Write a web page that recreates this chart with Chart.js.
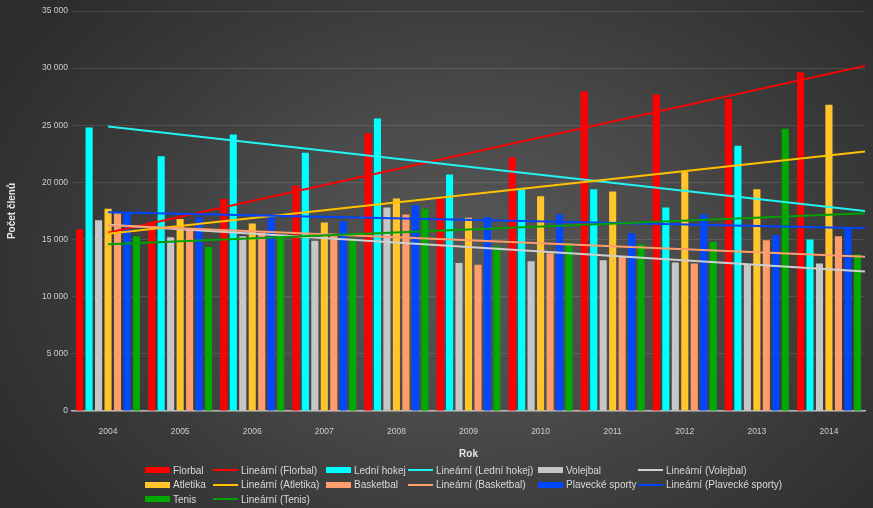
<!DOCTYPE html>
<html lang="cs">
<head>
<meta charset="utf-8">
<title>Počet členů</title>
<script src="https://cdn.jsdelivr.net/npm/chart.js@4/dist/chart.umd.min.js"></script>
<style>
    html, body { margin: 0; padding: 0; }
    body {
        width: 873px;
        height: 508px;
        overflow: hidden;
        position: relative;
        background: radial-gradient(ellipse 62% 78% at 54% 52%, #575757 0%, #4a4a4a 40%, #3a3a3a 70%, #2d2d2d 100%);
        font-family: "Liberation Sans", Arial, sans-serif;
    }
    #wrap { position: absolute; left: 0; top: 0; width: 873px; height: 508px; }
    #legend {
        position: absolute;
        left: 145px;
        top: 463px;
        display: grid;
        grid-template-columns: 68px 113px 82px 130px 100px 170px;
        grid-auto-rows: 14.5px;
        font-size: 10px;
        color: #d9d9d9;
    }
    .item { display: flex; align-items: center; white-space: nowrap; }
    .sw { width: 25px; margin-right: 3px; flex: none; }
</style>
</head>
<body>
<div id="wrap"><canvas id="chart" width="873" height="508"></canvas></div>
<div id="legend"></div>
<script>
// Data
const years = ['2004', '2005', '2006', '2007', '2008', '2009', '2010', '2011', '2012', '2013', '2014'];

const florbal   = [15900, 16550, 18550, 19700, 24300, 18600, 22200, 27950, 27700, 27300, 29650];
const ledniHokej = [24800, 22300, 24200, 22600, 25600, 20700, 19400, 19400, 17800, 23200, 15000];
const volejbal  = [16700, 15200, 15300, 14900, 17800, 12950, 13100, 13200, 13000, 12800, 12900];
const atletika  = [17700, 16800, 16400, 16500, 18600, 16900, 18800, 19200, 20950, 19400, 26800];
const basketbal = [17300, 16000, 15600, 15500, 17200, 12800, 13800, 13500, 12900, 14950, 15300];
const plavecke  = [17300, 16950, 16950, 16600, 18000, 16950, 17200, 15550, 17200, 15400, 16050];
const tenis     = [15300, 14350, 15300, 15100, 17700, 14400, 14700, 14600, 14800, 24700, 13700];

// Trendline ends (left end at first category, right end at plot edge)
const trendStart = [15600, 24900, 16300, 15500, 16250, 17400, 14600];
const trendEnd   = [30200, 17500, 12200, 22700, 13500, 16000, 17300];

const seriesNames = ['Florbal', 'Lední hokej', 'Volejbal', 'Atletika', 'Basketbal', 'Plavecké sporty', 'Tenis'];
const seriesData = [florbal, ledniHokej, volejbal, atletika, basketbal, plavecke, tenis];
const barColors = ['#ff0000', '#00ffff', '#c6c6c6', '#ffc52a', '#ff9d6c', '#0048ff', '#00aa00'];
const lineColors = ['#ff0000', '#22f4f4', '#cfcfcf', '#ffc000', '#ff9d6c', '#0044ff', '#00a000'];

const yTicks = [0, 5000, 10000, 15000, 20000, 25000, 30000, 35000];

const barSets = seriesNames.map((name, i) => ({
    label: name,
    data: seriesData[i],
    backgroundColor: barColors[i],
    borderWidth: 0,
    categoryPercentage: 0.92,
    barPercentage: 0.75
}));

// trend lines drawn over the bars, placed with the chart's own scales
const trendPlugin = {
    id: 'trendLines',
    afterDatasetsDraw(chart) {
        const xs = chart.scales.xl;
        const ys = chart.scales.y;
        const ctx = chart.ctx;
        ctx.save();
        ctx.lineWidth = 2;
        ctx.lineCap = 'butt';
        seriesNames.forEach((name, i) => {
            ctx.strokeStyle = lineColors[i];
            ctx.beginPath();
            ctx.moveTo(xs.getPixelForValue(0), ys.getPixelForValue(trendStart[i]));
            ctx.lineTo(xs.getPixelForValue(years.length - 0.5), ys.getPixelForValue(trendEnd[i]));
            ctx.stroke();
        });
        ctx.restore();
    }
};

const tickFont = { family: '"Liberation Sans", Arial, sans-serif', size: 8.5 };
const titleFont = { family: '"Liberation Sans", Arial, sans-serif', size: 10, weight: 'bold' };

const chart = new Chart(document.getElementById('chart'), {
    type: 'bar',
    data: { labels: years, datasets: barSets },
    plugins: [trendPlugin],
    options: {
        responsive: false,
        animation: false,
        layout: { padding: { top: 11, right: 8, bottom: 42, left: 0 } },
        plugins: {
            legend: { display: false },
            tooltip: { enabled: false }
        },
        scales: {
            x: {
                type: 'category',
                offset: true,
                grid: { display: false },
                border: { color: '#b5b5b5', width: 1.5 },
                ticks: { color: '#c9cdd6', font: tickFont, padding: 8, maxRotation: 0 },
                title: {
                    display: true,
                    text: 'Rok',
                    color: '#e6e6e6',
                    font: titleFont,
                    padding: { top: 4, bottom: 6 }
                },
                afterFit: s => { s.height = 55; }
            },
            xl: {
                type: 'linear',
                axis: 'x',
                position: 'bottom',
                display: false,
                offset: false,
                min: -0.5,
                max: years.length - 0.5
            },
            y: {
                min: 0,
                max: 35000,
                afterBuildTicks: s => { s.ticks = yTicks.map(v => ({ value: v })); },
                grid: { color: 'rgba(255,255,255,0.11)', lineWidth: 1, drawTicks: false },
                border: { display: false },
                ticks: {
                    color: '#c9cdd6',
                    font: tickFont,
                    padding: 4,
                    callback: v => String(v).replace(/\B(?=(\d{3})+(?!\d))/g, ' ')
                },
                title: {
                    display: true,
                    text: 'Počet členů',
                    color: '#e6e6e6',
                    font: titleFont,
                    padding: { top: 6, bottom: 0 }
                },
                afterFit: s => { s.width = 72; }
            }
        }
    }
});

// legend laid out in columns like the original (bar, then its trend line)
const legendEl = document.getElementById('legend');
function addLegendItem(label, color, isLine) {
    const item = document.createElement('div');
    item.className = 'item';
    const sw = document.createElement('span');
    sw.className = 'sw';
    sw.style.height = isLine ? '2px' : '6px';
    sw.style.background = color;
    const txt = document.createElement('span');
    txt.textContent = label;
    item.appendChild(sw);
    item.appendChild(txt);
    legendEl.appendChild(item);
}
seriesNames.forEach((name, i) => {
    addLegendItem(name, barColors[i], false);
    addLegendItem('Lineární (' + name + ')', lineColors[i], true);
});
</script>
</body>
</html>
